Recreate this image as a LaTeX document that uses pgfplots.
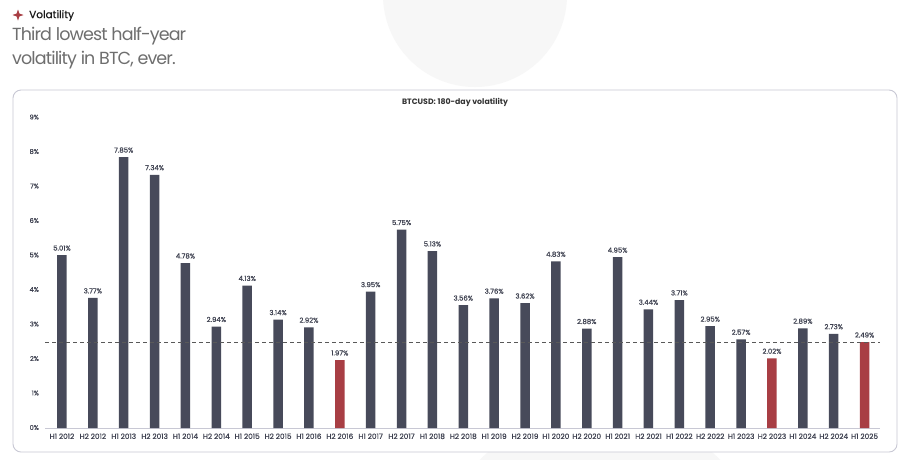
\documentclass[border=0pt]{standalone}
\usepackage{fontspec}
\setmainfont{Poppins}
\usepackage{pgfplots}
\pgfplotsset{compat=1.18}
\definecolor{bardark}{HTML}{474A5A}
\definecolor{barred}{HTML}{A83E44}
\definecolor{boxline}{HTML}{C8C8D4}
\definecolor{subgrey}{HTML}{6E6E6E}
\definecolor{labgrey}{HTML}{3E4150}
\begin{document}
\begin{tikzpicture}[x=1pt,y=1pt]
\path[use as bounding box] (0,0) rectangle (920,-459);
\fill[white] (0,0) rectangle (920,-459);
% faint decorative shapes
\fill[black!3] (475,5) circle (92);
\fill[black!3] (600,-580) circle (170);
% header
\fill[barred] (18,-9.5) -- (19.4,-13.6) -- (23.5,-15) -- (19.4,-16.4) -- (18,-20.5) -- (16.6,-16.4) -- (12.5,-15) -- (16.6,-13.6) -- cycle;
\node[anchor=west,inner sep=0,font=\addfontfeatures{FakeBold=0.6}\fontsize{10.5}{12}\selectfont,text=black!90] at (29,-15.5) {Volatility};
\node[anchor=north west,inner sep=0,align=left,text=subgrey,
  font=\addfontfeatures{LetterSpace=-5}\fontsize{17.5}{24}\selectfont] at (12,-27) {Third lowest half-year\\volatility in BTC, ever.};
% box
\draw[boxline,fill=white,line width=0.9pt,rounded corners=8pt] (13,-90) rectangle (897,-452);
\node[font=\bfseries\fontsize{7.8}{9}\selectfont,text=black!80] at (455,-102) {BTCUSD: 180-day volatility};
\begin{axis}[
  at={(45pt,-428pt)}, anchor=south west,
  scale only axis, width=835pt, height=310.5pt,
  xmin=-0.55, xmax=26.5, ymin=0, ymax=9,
  axis x line*=bottom, axis y line=none,
  x axis line style={draw=boxline,line width=0.8pt},
  ytick={0,1,...,9},
  xtick={0,...,26},
  xticklabels={H1 2012,H2 2012,H1 2013,H2 2013,H1 2014,H2 2014,H1 2015,H2 2015,H1 2016,H2 2016,H1 2017,H2 2017,H1 2018,H2 2018,H1 2019,H2 2019,H1 2020,H2 2020,H1 2021,H2 2021,H1 2022,H2 2022,H1 2023,H2 2023,H1 2024,H2 2024,H1 2025},
  major tick length=0pt,
  /pgf/number format/assume math mode=true,
  xticklabel style={font=\addfontfeatures{FakeBold=0.4}\fontsize{7.3}{8}\selectfont,text=labgrey,yshift=-2pt},
  ybar, bar width=9.5pt, bar shift=0pt,
  nodes near coords={\pgfmathprintnumber[fixed,fixed zerofill,precision=2]{\pgfplotspointmeta}\%},
  every node near coord/.append style={font=\addfontfeatures{FakeBold=0.4}\fontsize{6.9}{8}\selectfont,text=labgrey,yshift=1pt},
  clip=false,
]
\addplot[fill=bardark,draw=none] coordinates {
(0,5.01) (1,3.77) (2,7.85) (3,7.34) (4,4.78) (5,2.94) (6,4.13) (7,3.14) (8,2.92)
(10,3.95) (11,5.75) (12,5.13) (13,3.56) (14,3.76) (15,3.62) (16,4.83) (17,2.88)
(18,4.95) (19,3.44) (20,3.71) (21,2.95) (22,2.57) (24,2.89) (25,2.73)};
\addplot[fill=barred,draw=none] coordinates {(9,1.97) (23,2.02) (26,2.49)};
\addplot[sharp plot,no markers,nodes near coords={},draw=black!65,line width=0.7pt,dash pattern=on 4pt off 3pt,forget plot] coordinates {(-0.55,2.49) (26.5,2.49)};
\end{axis}
% y tick labels
\foreach \v in {0,...,9} {
  \node[anchor=east,inner sep=0,font=\addfontfeatures{FakeBold=0.4}\fontsize{6.6}{7}\selectfont,text=labgrey] at (39,-427.5+34.5*\v) {\v\%};
}
\end{tikzpicture}
\end{document}
